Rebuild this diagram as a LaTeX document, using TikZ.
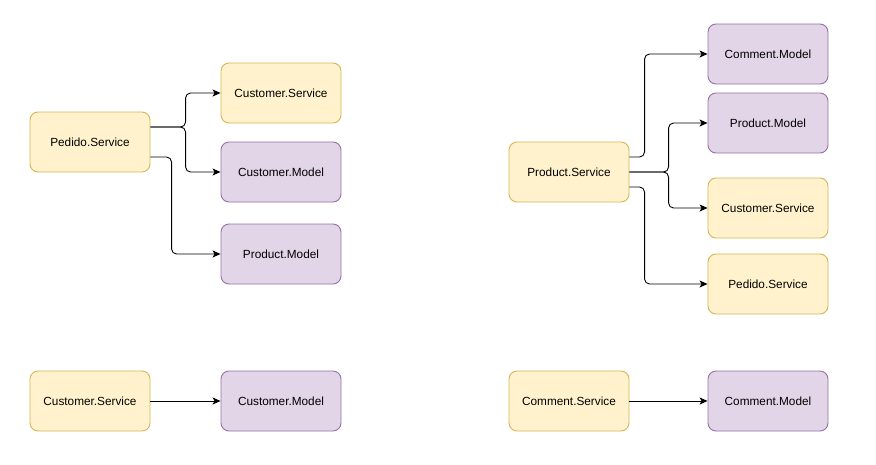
\documentclass[tikz,border=0pt]{standalone}
\usepackage{fontspec}
\setmainfont{Liberation Sans}
\usetikzlibrary{arrows.meta,calc}
\definecolor{yfill}{HTML}{FFF2CC}
\definecolor{ydraw}{HTML}{D6B656}
\definecolor{pfill}{HTML}{E1D5E7}
\definecolor{pdraw}{HTML}{9673A6}
\begin{document}
\begin{tikzpicture}[x=1pt,y=-1pt,
  box/.style={rounded corners=8pt, minimum width=120pt, minimum height=60pt, inner sep=0pt, line width=0.9pt, font=\fontsize{11.8}{14}\selectfont},
  svc/.style={box, fill=yfill, draw=ydraw},
  mdl/.style={box, fill=pfill, draw=pdraw},
  arr/.style={line width=0.9pt, rounded corners=5pt, -{Stealth[length=8pt,width=7pt,inset=2pt]}}]
\path[fill=white] (0,0) rectangle (876,464);
\useasboundingbox (0,0) rectangle (876,464);
% left top
\node[svc] (ped) at (90,142) {Pedido.Service};
\node[svc] (cs1) at (281,93) {Customer.Service};
\node[mdl] (cm1) at (281,172) {Customer.Model};
\node[mdl] (pm1) at (281,254) {Product.Model};
\draw[arr] ($(ped.east)+(0,-15)$) -| ($(cs1.west)+(-35,0)$) -- (cs1.west);
\draw[arr] ($(ped.east)+(0,-15)$) -| ($(cm1.west)+(-35,0)$) -- (cm1.west);
\draw[arr] ($(ped.east)+(0,15)$) -| ($(pm1.west)+(-49,0)$) -- (pm1.west);
% right top
\node[svc] (ps) at (569,172) {Product.Service};
\node[mdl] (com1) at (768,54) {Comment.Model};
\node[mdl] (pm2) at (768,123) {Product.Model};
\node[svc] (cs2) at (768,208) {Customer.Service};
\node[svc] (ped2) at (768,284) {Pedido.Service};
\draw[arr] ($(ps.east)+(0,-15)$) -| ($(com1.west)+(-63,0)$) -- (com1.west);
\draw[arr] (ps.east) -| ($(pm2.west)+(-39,0)$) -- (pm2.west);
\draw[arr] (ps.east) -| ($(cs2.west)+(-39,0)$) -- (cs2.west);
\draw[arr] ($(ps.east)+(0,15)$) -| ($(ped2.west)+(-63,0)$) -- (ped2.west);
% bottom
\node[svc] (cs3) at (90,401) {Customer.Service};
\node[mdl] (cm3) at (281,401) {Customer.Model};
\draw[arr] (cs3) -- (cm3);
\node[svc] (cos) at (569,401) {Comment.Service};
\node[mdl] (com2) at (768,401) {Comment.Model};
\draw[arr] (cos) -- (com2);
\end{tikzpicture}
\end{document}
